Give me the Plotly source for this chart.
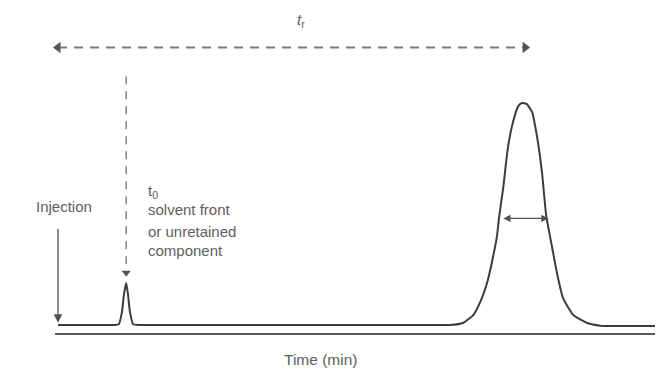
import plotly.graph_objects as go

# ---- data ----
time_min = [0.0, 0.6, 1.20, 1.30, 1.37, 1.41, 1.46, 1.50, 1.54, 1.61, 1.75, 3.0, 5.0, 7.0,
            8.0, 8.39, 8.67, 8.89, 9.04, 9.19, 9.29, 9.40, 9.44, 9.53, 9.63, 9.74, 9.85,
            9.93, 10.03, 10.15, 10.26, 10.36, 10.45, 10.58, 10.69, 10.81, 11.03, 11.33,
            11.61, 12.0, 12.78]
signal = [0.0, 0.0, 0.0, 0.3, 5.9, 13.5, 18.9, 13.5, 5.9, 0.3, 0.0, 0.0, 0.0, 0.0,
          0.0, 0.0, 0.9, 4.5, 10.4, 19.4, 28.4, 40.5, 48.2, 61.7, 79.7, 91.4, 98.5,
          100.0, 99.6, 95.9, 84.2, 68.9, 49.5, 34.7, 22.5, 12.2, 4.5, 0.9,
          -0.3, -0.5, -0.5]

t_injection = 0.0
t0 = 1.46
t_r = 10.0
peak_height = 100.0
fwhm = 1.0
tr_arrow_level = 125.0
t0_line_top = 112.0
t0_line_bottom = 21.5
injection_top = 44.0

line_col = "#3c3c3c"
dash_col = "#7a7a7a"
text_col = "#5e5e5e"
font_family = "Liberation Sans, Arial, sans-serif"

fig = go.Figure()

# chromatogram trace
fig.add_trace(go.Scatter(x=time_min, y=signal, mode="lines",
                         line=dict(color=line_col, width=2, shape="spline", smoothing=0.5),
                         hoverinfo="skip", showlegend=False))

# t_r dashed double arrow
fig.add_trace(go.Scatter(x=[t_injection, t_r], y=[tr_arrow_level, tr_arrow_level], mode="lines",
                         line=dict(color=dash_col, width=2.2, dash="9px,7px"),
                         cliponaxis=False, showlegend=False, hoverinfo="skip"))
fig.add_trace(go.Scatter(x=[t_injection], y=[tr_arrow_level], mode="markers",
                         marker=dict(symbol="triangle-left", size=10, color="#555555"),
                         cliponaxis=False, showlegend=False, hoverinfo="skip"))
fig.add_trace(go.Scatter(x=[t_r], y=[tr_arrow_level], mode="markers",
                         marker=dict(symbol="triangle-right", size=10, color="#555555"),
                         cliponaxis=False, showlegend=False, hoverinfo="skip"))

# t0 dashed vertical arrow
fig.add_trace(go.Scatter(x=[t0, t0], y=[t0_line_top, t0_line_bottom + 4], mode="lines",
                         line=dict(color=dash_col, width=1.4, dash="8px,7px"),
                         showlegend=False, hoverinfo="skip"))
fig.add_trace(go.Scatter(x=[t0], y=[t0_line_bottom + 2], mode="markers",
                         marker=dict(symbol="triangle-down", size=8, color="#555555"),
                         showlegend=False, hoverinfo="skip"))

# injection arrow
fig.add_annotation(x=t_injection, y=1.0, ax=t_injection, ay=injection_top,
                   xref="x", yref="y", axref="x", ayref="y", text="",
                   showarrow=True, arrowhead=2, arrowsize=1.3, arrowwidth=1.3,
                   arrowcolor="#505050")

# FWHM double arrow
fig.add_annotation(x=t_r + fwhm / 2, y=peak_height / 2 - 2, ax=t_r - fwhm / 2, ay=peak_height / 2 - 2,
                   xref="x", yref="y", axref="x", ayref="y", text="",
                   showarrow=True, arrowhead=2, startarrowhead=2, arrowside="end+start",
                   arrowsize=1.2, startarrowsize=1.2, arrowwidth=1.2, arrowcolor="#505050")

# text labels (paper coordinates)
labels = [
    ("<i>t</i><sub>r</sub>", 0.41, 0.963, "center", 15),
    ("t<sub>0</sub>", 0.151, 0.434, "left", 15),
    ("solvent front", 0.151, 0.381, "left", 15),
    ("or unretained", 0.151, 0.311, "left", 15),
    ("component", 0.151, 0.255, "left", 15),
    ("Injection", 0.0142, 0.388, "center", 15),
    ("Time (min)", 0.443, -0.08, "center", 15.5),
]
for txt, xp, yp, anchor, size in labels:
    fig.add_annotation(x=xp, y=yp, xref="paper", yref="paper", text=txt, showarrow=False,
                       xanchor=anchor, yanchor="middle", align=anchor,
                       font=dict(family=font_family, size=size, color=text_col))

fig.update_xaxes(range=[-0.064, 12.78], showgrid=False, zeroline=False, showticklabels=False,
                 ticks="", showline=True, linecolor="#5a5a5a", linewidth=1.6)
fig.update_yaxes(range=[-3.6, 142.8], showgrid=False, zeroline=False, showticklabels=False,
                 ticks="", showline=False)

fig.update_layout(width=657, height=361, margin=dict(l=47, r=10, t=0, b=36),
                  plot_bgcolor="#ffffff", paper_bgcolor="#ffffff", showlegend=False)

fig.write_html("out.html")
